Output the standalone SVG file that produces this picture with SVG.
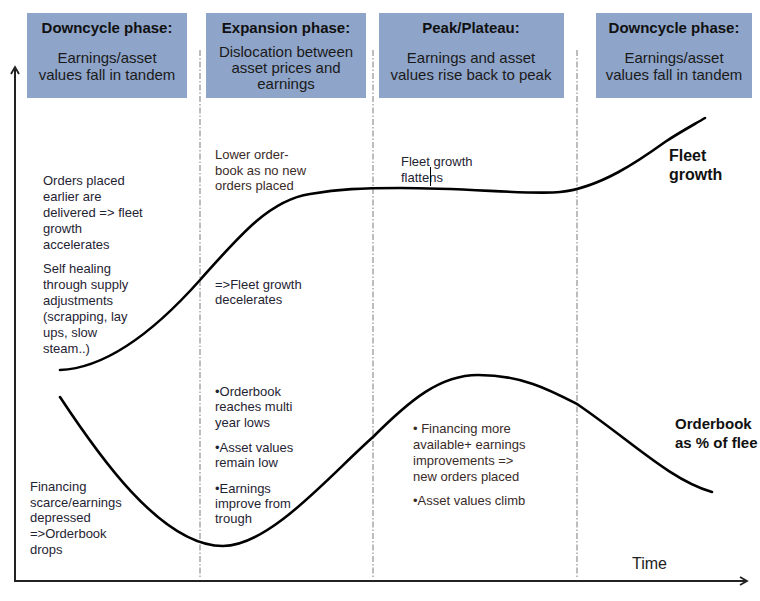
<svg xmlns="http://www.w3.org/2000/svg" width="760" height="601" viewBox="0 0 760 601">
<style>
.box{fill:#8EA4C9;}
.ht{font-family:"Liberation Sans",Arial,sans-serif;font-size:15px;font-weight:bold;fill:#111;text-anchor:middle;}
.hb{font-family:"Liberation Sans",Arial,sans-serif;font-size:15px;fill:#1a1a1a;text-anchor:middle;}
.note{font-family:"Liberation Sans",Arial,sans-serif;font-size:13px;fill:#1f2433;}
.noteb{font-family:"Liberation Sans",Arial,sans-serif;font-size:13px;fill:#3a2b28;}
.lbl{font-family:"Liberation Sans",Arial,sans-serif;font-size:16px;font-weight:bold;fill:#111;}
.lbl2{font-family:"Liberation Sans",Arial,sans-serif;font-size:15px;font-weight:bold;fill:#111;}
.time{font-family:"Liberation Sans",Arial,sans-serif;font-size:16px;fill:#222;}
.div{stroke:#9a9a9a;stroke-width:1.3;stroke-dasharray:6 2 1.5 2;fill:none;}
.axis{stroke:#222;stroke-width:2;fill:none;}
.curve{stroke:#000;stroke-width:2.6;fill:none;stroke-linecap:round;}
</style>
<defs>
<marker id="arr" markerWidth="10" markerHeight="10" refX="8" refY="5" orient="auto" markerUnits="userSpaceOnUse">
<path d="M1,1 L8,5 L1,9" fill="none" stroke="#222" stroke-width="1.8"/>
</marker>
</defs>
<rect width="760" height="601" fill="#fff"/>

<g id="dividers">
<line class="div" x1="200" y1="50" x2="200" y2="578"/>
<line class="div" x1="373" y1="50" x2="373" y2="578"/>
<line class="div" x1="577" y1="50" x2="577" y2="578"/>
</g>

<g id="header-downcycle-1">
<rect class="box" x="27" y="13" width="160" height="85"/>
<text class="ht" x="107" y="33">Downcycle phase:</text>
<text class="hb" x="107" y="63">Earnings/asset</text>
<text class="hb" x="107" y="80">values fall in tandem</text>
</g>
<g id="header-expansion">
<rect class="box" x="206" y="13" width="160" height="85"/>
<text class="ht" x="286" y="33">Expansion phase:</text>
<text class="hb" x="286" y="57">Dislocation between</text>
<text class="hb" x="286" y="73">asset prices and</text>
<text class="hb" x="286" y="89">earnings</text>
</g>
<g id="header-peak">
<rect class="box" x="379" y="13" width="185" height="85"/>
<text class="ht" x="471" y="33">Peak/Plateau:</text>
<text class="hb" x="471" y="63">Earnings and asset</text>
<text class="hb" x="471" y="80">values rise back to peak</text>
</g>
<g id="header-downcycle-2">
<rect class="box" x="596" y="13" width="156" height="85"/>
<text class="ht" x="674" y="33">Downcycle phase:</text>
<text class="hb" x="674" y="63">Earnings/asset</text>
<text class="hb" x="674" y="80">values fall in tandem</text>
</g>

<g id="axes">
<line class="axis" x1="15" y1="581" x2="15" y2="67" marker-end="url(#arr)"/>
<line class="axis" x1="14" y1="581" x2="747" y2="581" marker-end="url(#arr)"/>
</g>

<g id="curves">
<path id="fleet-curve" class="curve" d="M60,370 C110,368 160,325 200,280 C240,235 270,200 310,194 C340,189 360,188 400,188 C470,188 530,195 560,192 C600,188 640,160 665,142 C680,132 695,124 705,118"/>
<path id="orderbook-curve" class="curve" d="M60,397 C95,450 160,546 223,546 C270,546 330,475 373,437 C410,400 440,375 478,375 C522,375 550,390 577,404 C630,440 670,480 712,492"/>
</g>

<g id="label-fleet">
<text class="lbl" x="669" y="161">Fleet</text>
<text class="lbl" x="669" y="180">growth</text>
</g>
<g id="label-orderbook">
<text class="lbl2" x="675" y="429">Orderbook</text>
<text class="lbl2" x="675" y="448">as % of flee</text>
</g>
<g id="label-time">
<text class="time" x="632" y="569">Time</text>
</g>

<g id="note-orders-delivered">
<text class="note" x="43"><tspan x="43" y="185">Orders placed</tspan><tspan x="43" y="201">earlier are</tspan><tspan x="43" y="217">delivered =&gt; fleet</tspan><tspan x="43" y="233">growth</tspan><tspan x="43" y="249">accelerates</tspan></text>
</g>
<g id="note-self-healing">
<text class="note" x="43"><tspan x="43" y="273">Self healing</tspan><tspan x="43" y="289">through supply</tspan><tspan x="43" y="305">adjustments</tspan><tspan x="43" y="321">(scrapping, lay</tspan><tspan x="43" y="337">ups, slow</tspan><tspan x="43" y="353">steam..)</tspan></text>
</g>
<g id="note-financing-scarce">
<text class="note" x="30"><tspan x="30" y="491">Financing</tspan><tspan x="30" y="507">scarce/earnings</tspan><tspan x="30" y="522">depressed</tspan><tspan x="30" y="538">=&gt;Orderbook</tspan><tspan x="30" y="554">drops</tspan></text>
</g>
<g id="note-lower-orderbook">
<text class="noteb" x="215"><tspan x="215" y="159">Lower order-</tspan><tspan x="215" y="175">book as no new</tspan><tspan x="215" y="190">orders placed</tspan></text>
</g>
<g id="note-fleet-decelerates">
<text class="note" x="215"><tspan x="215" y="289">=&gt;Fleet growth</tspan><tspan x="215" y="304">decelerates</tspan></text>
</g>
<g id="note-expansion-bullets">
<text class="note" x="215"><tspan x="215" y="396">•Orderbook</tspan><tspan x="215" y="411">reaches multi</tspan><tspan x="215" y="427">year lows</tspan><tspan x="215" y="452">•Asset values</tspan><tspan x="215" y="467">remain low</tspan><tspan x="215" y="493">•Earnings</tspan><tspan x="215" y="508">improve from</tspan><tspan x="215" y="523">trough</tspan></text>
</g>
<g id="note-fleet-flattens">
<text class="note" x="401"><tspan x="401" y="166">Fleet growth</tspan><tspan x="401" y="182">flattens</tspan></text>
<line x1="430.5" y1="167" x2="430.5" y2="186" stroke="#000" stroke-width="1"/>
</g>
<g id="note-peak-bullets">
<text class="noteb" x="413"><tspan x="413" y="433">• Financing more</tspan><tspan x="413" y="449">available+ earnings</tspan><tspan x="413" y="465">improvements =&gt;</tspan><tspan x="413" y="481">new orders placed</tspan><tspan x="413" y="505">•Asset values climb</tspan></text>
</g>
</svg>
